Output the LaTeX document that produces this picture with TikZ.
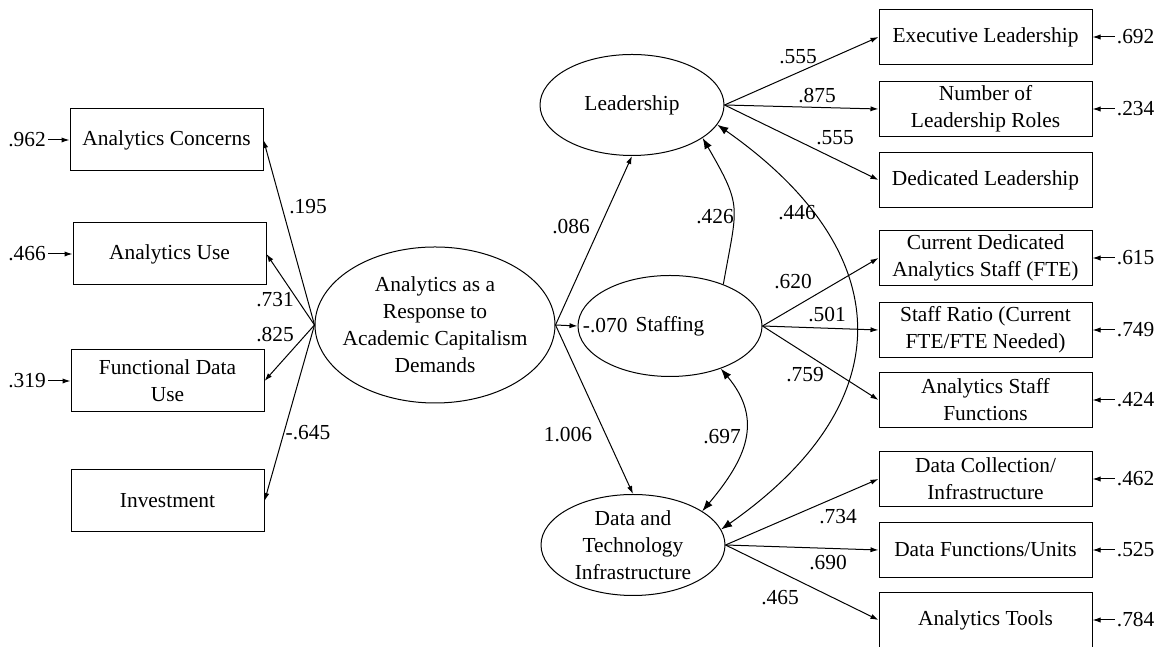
\documentclass[tikz,border=0pt]{standalone}
\usepackage{fontspec}
\setmainfont{Liberation Serif}
\usetikzlibrary{shapes,arrows.meta,positioning,calc}

\begin{document}
\begin{tikzpicture}[x=0.5pt,y=0.5pt,
  font=\fontsize{10.7}{13.5}\selectfont,
  obs/.style={draw,line width=0.5pt,minimum width=106.5pt,minimum height=27.5pt,align=center,inner sep=1pt},
  obsl/.style={obs,minimum width=96.5pt,minimum height=31pt},
  lat/.style={draw,ellipse,line width=0.5pt,minimum width=92pt,minimum height=50.5pt,align=center,inner sep=0pt},
  load/.style={-{Latex[length=4pt,width=2.6pt]},line width=0.5pt},
  cov/.style={{Latex[length=5.5pt,width=4pt]}-{Latex[length=5.5pt,width=4pt]},line width=0.5pt},
  coef/.style={inner sep=1pt}]
\useasboundingbox (0,0) rectangle (1163,647);
% Second-order factor
\node[lat,inner xsep=-4pt,minimum width=120pt,minimum height=78pt] (acad) at (435,322) {Analytics as a\\Response to\\Academic Capitalism\\Demands};
% First-order factors
\node[lat] (lead) at (632,542) {Leadership};
\node[lat] (staff) at (670,321) {Staffing};
\node[lat] (data) at (633,102) {Data and\\Technology\\Infrastructure};
% Left indicators
\node[obsl] (conc) at (166.5,507) {Analytics Concerns};
\node[obsl] (use) at (169.5,393) {Analytics Use};
\node[obsl] (func) at (167.5,266) {Functional Data\\Use};
\node[obsl] (inv) at (167.5,146) {Investment};
% Right indicators
\node[obs] (exec) at (985.5,610) {Executive Leadership};
\node[obs] (roles) at (985.5,538) {Number of\\Leadership Roles};
\node[obs] (dedl) at (985.5,467) {Dedicated Leadership};
\node[obs] (cur) at (985.5,389) {Current Dedicated\\Analytics Staff (FTE)};
\node[obs] (ratio) at (985.5,317) {Staff Ratio (Current\\FTE/FTE Needed)};
\node[obs] (sfun) at (985.5,247) {Analytics Staff\\Functions};
\node[obs] (coll) at (985.5,168) {Data Collection/\\Infrastructure};
\node[obs] (units) at (985.5,97) {Data Functions/Units};
\node[obs] (tools) at (985.5,27) {Analytics Tools};
% Residuals - left
\node[coef] (e1) at (27,507) {.962};
\node[coef] (e2) at (27,393) {.466};
\node[coef] (e3) at (27,266) {.319};
\draw[load] (e1) -- (conc);
\draw[load] (e2) -- (use);
\draw[load] (e3) -- (func);
% Residuals - right
\foreach \val/\obj in {.692/exec,.234/roles,.615/cur,.749/ratio,.424/sfun,.462/coll,.525/units,.784/tools}{
  \node[coef,right=11pt of \obj.east] (r-\obj) {\val};
  \draw[load] (r-\obj) -- (\obj.east);
}
% Loadings - left
\draw[load] (acad.west) -- (conc.east);
\draw[load] (acad.west) -- (use.east);
\draw[load] (acad.west) -- (func.east);
\draw[load] (acad.west) -- (inv.east);
\node[coef] (c1) at (308,440) {.195};
\node[coef] (c2) at (275,347) {.731};
\node[coef] (c3) at (275,312) {.825};
\node[coef] (c4) at (308,214) {-.645};
% Second-order paths
\draw[load] (acad.east) -- (lead.south);
\draw[load] (acad.east) -- (staff.west);
\draw[load] (acad.east) -- (data.north);
\node[coef] (c5) at (571,420) {.086};
\node[coef,anchor=west] (c6) at ([xshift=1.5pt]staff.west) {-.070};
\node[coef] (c7) at (568,212) {1.006};
% Covariances
\draw[load,-{Latex[length=5.5pt,width=4pt]}] (staff.38) to[out=80,in=-60,looseness=1.4] (lead.-25);
\draw[cov] (lead.-13) to[out=-35,in=35,looseness=1.4] (data.10);
\draw[cov] (staff.-40) to[out=-50,in=50,looseness=1.2] (data.26);
\node[coef] (c8) at (715,430) {.426};
\node[coef] (c9) at (797,434) {.446};
\node[coef] (c10) at (722,210) {.697};
% Loadings - right
\draw[load] (lead.east) -- (exec.west);
\draw[load] (lead.east) -- (roles.west);
\draw[load] (lead.east) -- (dedl.west);
\draw[load] (staff.east) -- (cur.west);
\draw[load] (staff.east) -- (ratio.west);
\draw[load] (staff.east) -- (sfun.west);
\draw[load] (data.east) -- (coll.west);
\draw[load] (data.east) -- (units.west);
\draw[load] (data.east) -- (tools.west);
\node[coef] (c11) at (798,590) {.555};
\node[coef] (c12) at (817,551) {.875};
\node[coef] (c13) at (835,509) {.555};
\node[coef] (c14) at (793,365) {.620};
\node[coef] (c15) at (827,332) {.501};
\node[coef] (c16) at (805,272) {.759};
\node[coef] (c17) at (838,130) {.734};
\node[coef] (c18) at (828,84) {.690};
\node[coef] (c19) at (780,49) {.465};
\end{tikzpicture}
\end{document}
